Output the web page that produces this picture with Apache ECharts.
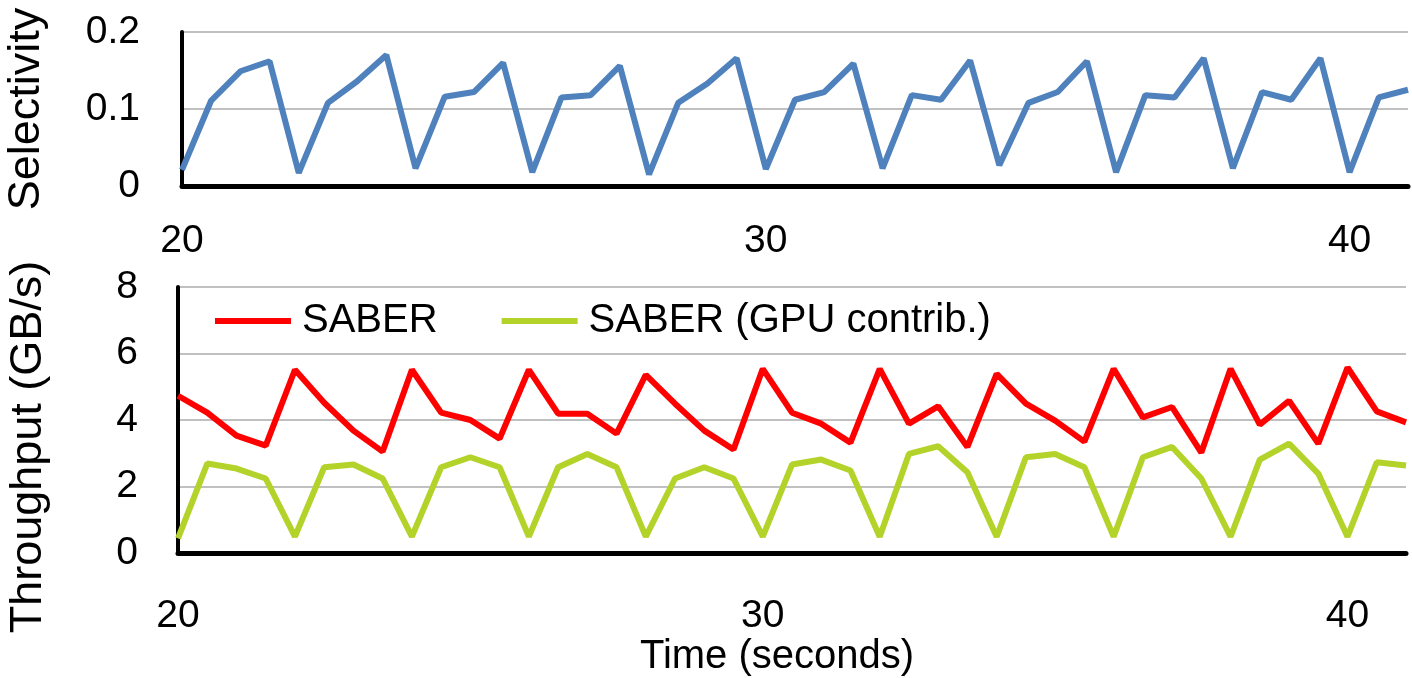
<!DOCTYPE html>
<html>
<head>
<meta charset="utf-8">
<script src="https://cdn.jsdelivr.net/npm/echarts@6/dist/echarts.min.js"></script>
<style>
html,body{margin:0;padding:0;background:#fff;}
#chart{width:1412px;height:678px;}
</style>
</head>
<body>
<div id="chart"></div>
<script>
// Time in seconds (sample every 0.5 s)
var times = [20,20.5,21,21.5,22,22.5,23,23.5,24,24.5,25,25.5,26,26.5,27,27.5,28,28.5,29,29.5,30,30.5,31,31.5,32,32.5,33,33.5,34,34.5,35,35.5,36,36.5,37,37.5,38,38.5,39,39.5,40,40.5,41];
var selectivity = [0.021,0.111,0.149,0.162,0.017,0.108,0.136,0.170,0.023,0.116,0.122,0.160,0.018,0.115,0.118,0.156,0.015,0.108,0.133,0.166,0.022,0.112,0.122,0.159,0.023,0.118,0.112,0.163,0.027,0.108,0.122,0.162,0.018,0.118,0.115,0.166,0.023,0.122,0.112,0.166,0.018,0.115,0.125];
var saber = [4.73,4.22,3.53,3.23,5.51,4.52,3.68,3.05,5.51,4.22,4.0,3.44,5.51,4.19,4.19,3.59,5.36,4.49,3.68,3.11,5.54,4.22,3.89,3.32,5.54,3.89,4.41,3.19,5.39,4.49,3.98,3.35,5.54,4.08,4.39,3.02,5.54,3.86,4.58,3.29,5.58,4.26,3.93];
var saberGpu = [0.44,2.69,2.54,2.24,0.49,2.58,2.66,2.24,0.49,2.58,2.88,2.58,0.49,2.58,2.98,2.58,0.49,2.24,2.58,2.24,0.49,2.66,2.81,2.48,0.49,2.98,3.21,2.43,0.49,2.88,2.98,2.58,0.49,2.88,3.19,2.24,0.49,2.81,3.29,2.39,0.49,2.73,2.63];
var seriesNames = ['SABER', 'SABER (GPU contrib.)'];
var selTicks = {min: 0, max: 0.2, interval: 0.1};
var thrTicks = {min: 0, max: 8, interval: 2};
var timeTicks = {min: 20, max: 41, interval: 10};

function pairs(xs, ys){ return xs.map(function(x,i){ return [x, ys[i]]; }); }

var FONT = '"Liberation Sans", Arial, sans-serif';
var tick = {fontFamily: FONT, fontSize: 39, color: '#000'};
var legendTxt = {fontFamily: FONT, fontSize: 40, color: '#000'};
var nameTxt = {fontFamily: FONT, fontSize: 45, color: '#000'};

var chart = echarts.init(document.getElementById('chart'), null, {renderer: 'canvas'});
var xAxisBase = {
  type: 'value', min: timeTicks.min, max: timeTicks.max, interval: timeTicks.interval,
  axisLine: {show: true, onZero: false, lineStyle: {color: '#000', width: 5}},
  axisTick: {show: false},
  splitLine: {show: false}
};
var yAxisBase = {
  type: 'value',
  axisLine: {show: true, lineStyle: {color: '#000', width: 4}},
  axisTick: {show: false},
  splitLine: {show: true, lineStyle: {color: '#c0c0c0', width: 2}},
  nameLocation: 'middle', nameRotate: 90
};
chart.setOption({
  animation: false,
  backgroundColor: '#fff',
  grid: [
    {left: 182, top: 32, right: 4, height: 154, containLabel: false, outerBoundsMode: 'none'},
    {left: 178, top: 287, right: 6, height: 266, containLabel: false, outerBoundsMode: 'none'}
  ],
  legend: {
    data: seriesNames,
    left: 210, top: 296,
    itemWidth: 76, itemHeight: 6, itemGap: 64,
    icon: 'rect',
    textStyle: Object.assign({padding: [0,0,0,6]}, legendTxt)
  },
  xAxis: [
    Object.assign({gridIndex: 0, axisLabel: Object.assign({margin: 36, showMaxLabel: false}, tick)}, xAxisBase),
    Object.assign({gridIndex: 1, name: 'Time (seconds)', nameLocation: 'middle', nameGap: 84,
      nameTextStyle: Object.assign({padding: [0, 30, 0, 0]}, legendTxt),
      axisLabel: Object.assign({margin: 44, showMaxLabel: false}, tick)}, xAxisBase)
  ],
  yAxis: [
    Object.assign({gridIndex: 0, name: 'Selectivity', nameGap: 133, min: selTicks.min, max: selTicks.max, interval: selTicks.interval,
      nameTextStyle: nameTxt, axisLabel: Object.assign({margin: 42}, tick)}, yAxisBase),
    Object.assign({gridIndex: 1, name: 'Throughput (GB/s)', nameGap: 127, min: thrTicks.min, max: thrTicks.max, interval: thrTicks.interval,
      nameTextStyle: Object.assign({padding: [0, 54, 0, 0]}, nameTxt), axisLabel: Object.assign({margin: 40}, tick)}, yAxisBase)
  ],
  series: [
    {name: 'Selectivity', type: 'line', xAxisIndex: 0, yAxisIndex: 0, data: pairs(times, selectivity),
     showSymbol: false, symbol: 'none', lineStyle: {color: '#4f81bd', width: 6}, itemStyle: {color: '#4f81bd'}},
    {name: seriesNames[0], type: 'line', xAxisIndex: 1, yAxisIndex: 1, data: pairs(times, saber),
     showSymbol: false, symbol: 'none', lineStyle: {color: '#ff0000', width: 6}, itemStyle: {color: '#ff0000'}},
    {name: seriesNames[1], type: 'line', xAxisIndex: 1, yAxisIndex: 1, data: pairs(times, saberGpu),
     showSymbol: false, symbol: 'none', lineStyle: {color: '#b3d22a', width: 6}, itemStyle: {color: '#b3d22a'}}
  ]
});
</script>
</body>
</html>
